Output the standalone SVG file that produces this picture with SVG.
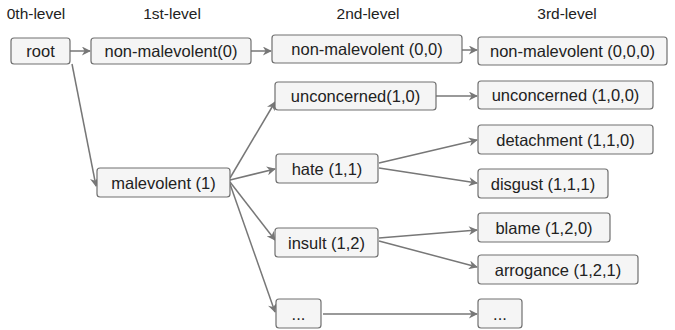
<svg xmlns="http://www.w3.org/2000/svg" width="675" height="330" viewBox="0 0 675 330">
<style>
  .n rect { fill: #f5f5f5; stroke: #707070; stroke-width: 1.2; }
  .n text { font-family: "Liberation Sans", Arial, sans-serif; font-size: 16.5px; fill: #222; text-anchor: middle; }
  .h { font-family: "Liberation Sans", Arial, sans-serif; font-size: 15.5px; fill: #222; text-anchor: middle; }
  .c line { stroke: #777; stroke-width: 1.5; marker-end: url(#ar); }
</style>
<defs>
  <marker id="ar" viewBox="0 0 10 10" refX="9" refY="5" markerWidth="10" markerHeight="9" markerUnits="userSpaceOnUse" orient="auto">
    <path d="M0,0 L10,5 L0,10 L3,5 Z" fill="#777"/>
  </marker>
</defs>
<rect width="675" height="330" fill="#fff"/>
<g id="headers">
  <text class="h" x="36" y="19">0th-level</text>
  <text class="h" x="172" y="19">1st-level</text>
  <text class="h" x="368" y="19">2nd-level</text>
  <text class="h" x="567" y="19">3rd-level</text>
</g>
<g class="c" id="connectors">
  <line x1="70" y1="51" x2="90" y2="51"/>
  <line x1="251" y1="51" x2="271" y2="51"/>
  <line x1="462" y1="50" x2="477" y2="50"/>
  <line x1="72" y1="64" x2="96" y2="186"/>
  <line x1="230" y1="178" x2="275" y2="102"/>
  <line x1="230" y1="180" x2="275" y2="169"/>
  <line x1="230" y1="182" x2="275" y2="240"/>
  <line x1="230" y1="184" x2="275" y2="312"/>
  <line x1="436" y1="96" x2="477" y2="96"/>
  <line x1="379" y1="163" x2="477" y2="140"/>
  <line x1="379" y1="168" x2="477" y2="183"/>
  <line x1="379" y1="238" x2="477" y2="230"/>
  <line x1="379" y1="241" x2="477" y2="267"/>
  <line x1="323" y1="314" x2="477" y2="314"/>
</g>
<g class="n" id="root"><rect x="11" y="38" width="59" height="26" rx="3"/><text x="40.5" y="57">root</text></g>
<g class="n" id="n0"><rect x="91" y="38" width="160" height="26" rx="3"/><text x="171" y="57">non-malevolent(0)</text></g>
<g class="n" id="n1"><rect x="97" y="168" width="133" height="29" rx="3"/><text x="163.5" y="188.5">malevolent (1)</text></g>
<g class="n" id="n00"><rect x="272" y="35" width="190" height="28" rx="3"/><text x="367" y="55">non-malevolent (0,0)</text></g>
<g class="n" id="n10"><rect x="275" y="82" width="161" height="28" rx="3"/><text x="355.5" y="102">unconcerned(1,0)</text></g>
<g class="n" id="n11"><rect x="276" y="154" width="102" height="29" rx="3"/><text x="327" y="174.5">hate (1,1)</text></g>
<g class="n" id="n12"><rect x="275" y="228" width="103" height="29" rx="3"/><text x="326.5" y="248.5">insult (1,2)</text></g>
<g class="n" id="n1x"><rect x="276" y="299" width="45" height="29" rx="3"/><text x="298.5" y="319.5">...</text></g>
<g class="n" id="n000"><rect x="478" y="37" width="189" height="28" rx="3"/><text x="572.5" y="57">non-malevolent (0,0,0)</text></g>
<g class="n" id="n100"><rect x="478" y="81" width="175" height="28" rx="3"/><text x="565.5" y="101">unconcerned (1,0,0)</text></g>
<g class="n" id="n110"><rect x="478" y="125" width="175" height="29" rx="3"/><text x="565.5" y="145.5">detachment (1,1,0)</text></g>
<g class="n" id="n111"><rect x="478" y="169" width="130" height="29" rx="3"/><text x="543" y="189.5">disgust (1,1,1)</text></g>
<g class="n" id="n120"><rect x="478" y="213" width="132" height="29" rx="3"/><text x="544" y="233.5">blame (1,2,0)</text></g>
<g class="n" id="n121"><rect x="478" y="255" width="160" height="29" rx="3"/><text x="558" y="275.5">arrogance (1,2,1)</text></g>
<g class="n" id="n1xx"><rect x="478" y="299" width="44" height="29" rx="3"/><text x="500" y="319.5">...</text></g>
</svg>
